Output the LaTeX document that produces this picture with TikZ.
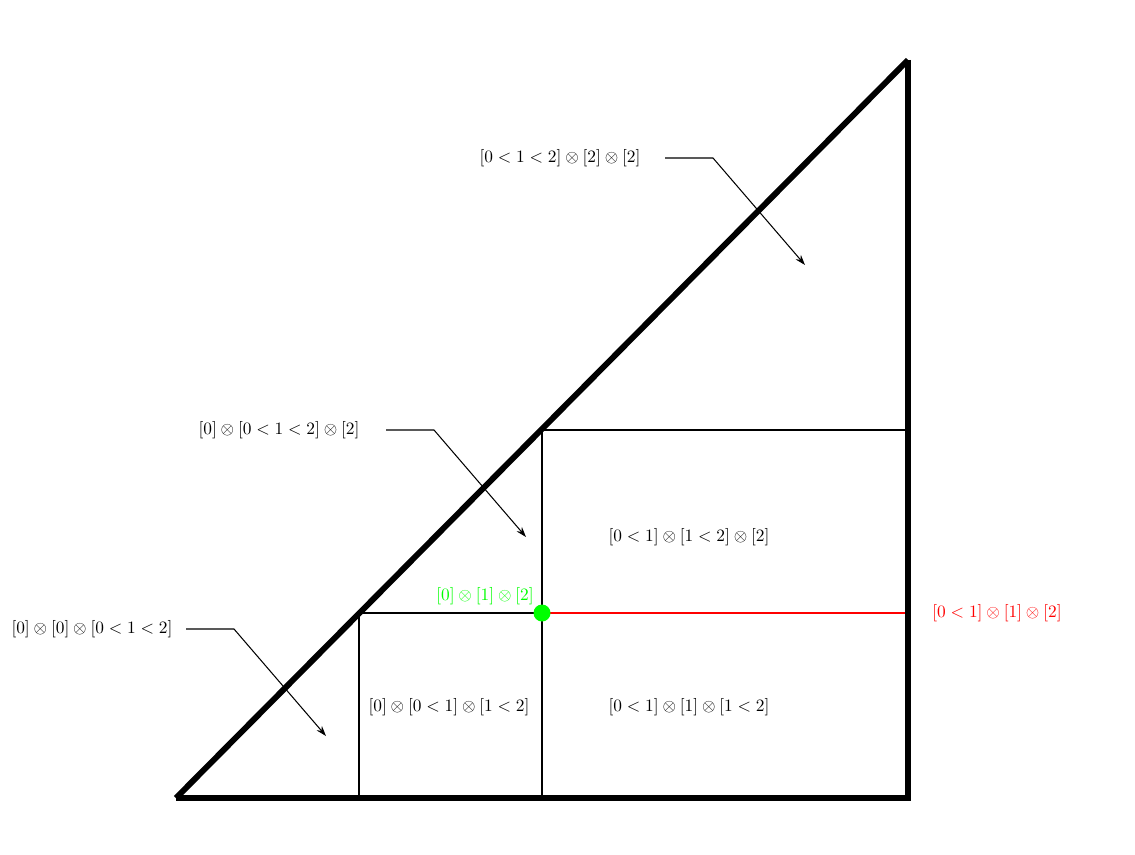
\documentclass[tikz,border=0pt]{standalone}
\usetikzlibrary{arrows.meta}
\begin{document}
\begin{tikzpicture}[x=0.5764pt,y=-0.5764pt,
  thickline/.style={line width=3.4pt},
  thinline/.style={line width=0.7pt},
  lbl/.style={inner sep=1pt},
  pointer/.style={line width=0.6pt,-{Stealth[length=6pt,width=4pt]}}]
\useasboundingbox (0,0) rectangle (1135,855);
% named corners
\coordinate (A) at (176,798);
\coordinate (B) at (908,798);
\coordinate (Bx) at (911,798);
\coordinate (Bv) at (908,801);
\coordinate (C) at (908,60);
\coordinate (P1) at (359,613);
\coordinate (P2) at (542,613);
\coordinate (P3) at (542,430);
\coordinate (Q1) at (359,798);
\coordinate (Q2) at (542,798);
\coordinate (R1) at (908,430);
\coordinate (R2) at (908,613);
% thin grid
\draw[thinline] (P3) -- (R1);
\draw[thinline] (P3) -- (Q2);
\draw[thinline] (P1) -- (P2);
\draw[thinline] (P1) -- (Q1);
\draw[thinline,red] (P2) -- (R2);
% thick triangle
\draw[thickline] (A) -- (C);
\draw[thickline] (C) -- (Bv);
\draw[thickline] (A) -- (Bx);
% green dot
\fill[green] (P2) circle (8.5);
% labels
\node[lbl] (t1) at (560,158) {$[0<1<2]\otimes[2]\otimes[2]$};
\node[lbl] (t2) at (279,430) {$[0]\otimes[0<1<2]\otimes[2]$};
\node[lbl] (t3) at (92,629) {$[0]\otimes[0]\otimes[0<1<2]$};
\node[lbl] (r1) at (689,537) {$[0<1]\otimes[1<2]\otimes[2]$};
\node[lbl] (r2) at (689,707) {$[0<1]\otimes[1]\otimes[1<2]$};
\node[lbl] (r3) at (449,707) {$[0]\otimes[0<1]\otimes[1<2]$};
\node[lbl,text=green] (g) at (485,596) {$[0]\otimes[1]\otimes[2]$};
\node[lbl,text=red] (rd) at (997,613) {$[0<1]\otimes[1]\otimes[2]$};
% pointers
\coordinate (s1) at (665,158); \coordinate (k1) at (713,158); \coordinate (e1) at (805,265);
\coordinate (s2) at (386,430); \coordinate (k2) at (434,430); \coordinate (e2) at (526,537);
\coordinate (s3) at (186,629); \coordinate (k3) at (234,629); \coordinate (e3) at (326,736);
\draw[pointer] (s1) -- (k1) -- (e1);
\draw[pointer] (s2) -- (k2) -- (e2);
\draw[pointer] (s3) -- (k3) -- (e3);
\end{tikzpicture}
\end{document}
